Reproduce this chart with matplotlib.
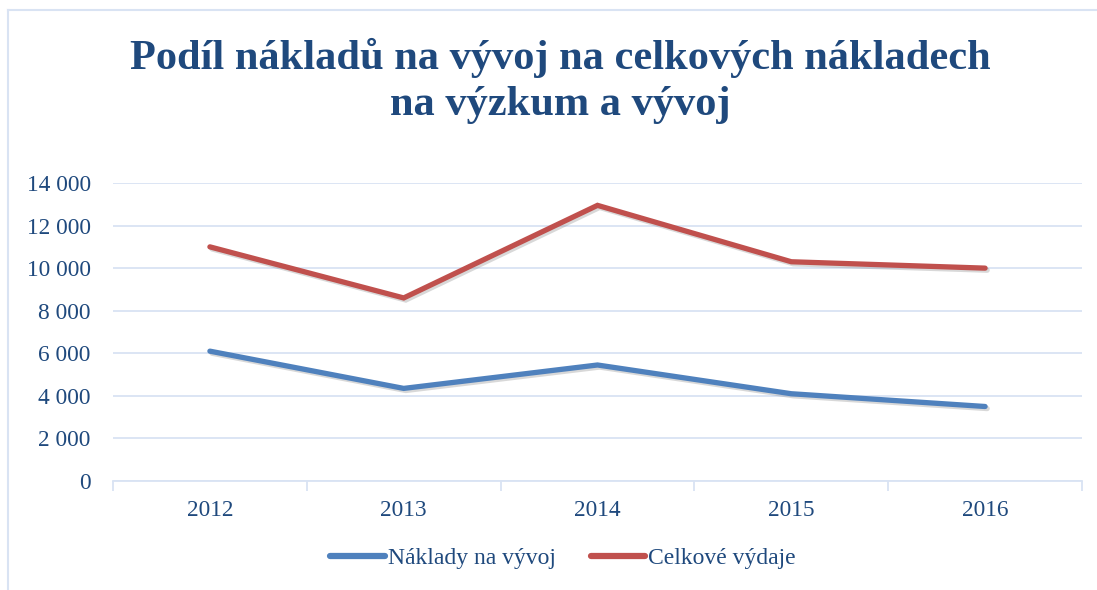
import matplotlib
matplotlib.use("Agg")
import matplotlib.pyplot as plt
from matplotlib.lines import Line2D
import matplotlib.patheffects as pe
from matplotlib.ticker import FuncFormatter, FixedLocator

years = ["2012", "2013", "2014", "2015", "2016"]
naklady_vyvoj = [6100, 4350, 5450, 4100, 3500]
celkove_vydaje = [11000, 8600, 12950, 10300, 10000]
series_names = ["Náklady na vývoj", "Celkové výdaje"]
title = "Podíl nákladů na vývoj na celkových nákladech\nna výzkum a vývoj"

text_col = "#1F497D"
grid_col = "#D9E3F3"
blue = "#4F81BD"
red = "#C0504D"

plt.rcParams['font.family'] = ['Liberation Serif', 'DejaVu Serif']

fig = plt.figure(figsize=(10.97, 5.90), dpi=100)
ax = fig.add_axes([113/1097, 1-481/590, (1082-113)/1097, (481-183)/590])

x = list(range(len(years)))
shadow = [pe.SimpleLineShadow(offset=(1.5, -1.5), shadow_color='gray', alpha=0.3), pe.Normal()]
ax.plot(x, naklady_vyvoj, color=blue, lw=3.8, solid_capstyle='round', solid_joinstyle='miter',
        label=series_names[0], path_effects=shadow, zorder=3)
ax.plot(x, celkove_vydaje, color=red, lw=3.8, solid_capstyle='round', solid_joinstyle='miter',
        label=series_names[1], path_effects=shadow, zorder=3)

ax.set_xlim(-0.5, len(years) - 0.5)
ax.set_ylim(0, 14000)
ax.set_yticks(range(0, 14001, 2000))
ax.yaxis.set_major_formatter(FuncFormatter(lambda v, p: f"{int(v):,}".replace(",", " ")))
ax.grid(axis='y', color=grid_col, lw=1.3)
ax.set_axisbelow(True)

ax.set_xticks(x)
ax.set_xticklabels(years)
ax.xaxis.set_minor_locator(FixedLocator([i - 0.5 for i in range(len(years) + 1)]))
ax.tick_params(axis='x', which='major', length=0, pad=14, labelsize=16.8, labelcolor=text_col)
ax.tick_params(axis='x', which='minor', length=7, color=grid_col, width=1.3)
ax.tick_params(axis='y', length=0, pad=16, labelsize=16.8, labelcolor=text_col)

for s in ['top', 'right', 'left']:
    ax.spines[s].set_visible(False)
ax.spines['bottom'].set_color(grid_col)
ax.spines['bottom'].set_linewidth(1.3)

fig.text(560/1097, 1-81/590, title, ha='center', va='center', fontsize=30.5,
         fontweight='bold', color=text_col, linespacing=1.28)

handles = [Line2D([0], [0], color=blue, lw=4.5, solid_capstyle='round'),
           Line2D([0], [0], color=red, lw=4.5, solid_capstyle='round')]
fig.legend(handles, series_names, loc='center', bbox_to_anchor=(563/1097, 1-558/590),
           ncol=2, frameon=False, fontsize=17, labelcolor=text_col,
           handlelength=2.3, handletextpad=0.12, columnspacing=1.5)

# chart border (light)
fig.add_artist(Line2D([8/1097, 8/1097], [0, 1-10/590], color=grid_col, lw=1.5, transform=fig.transFigure))
fig.add_artist(Line2D([8/1097, 1], [1-10/590, 1-10/590], color=grid_col, lw=1.5, transform=fig.transFigure))

fig.savefig("out.png", dpi=100)
